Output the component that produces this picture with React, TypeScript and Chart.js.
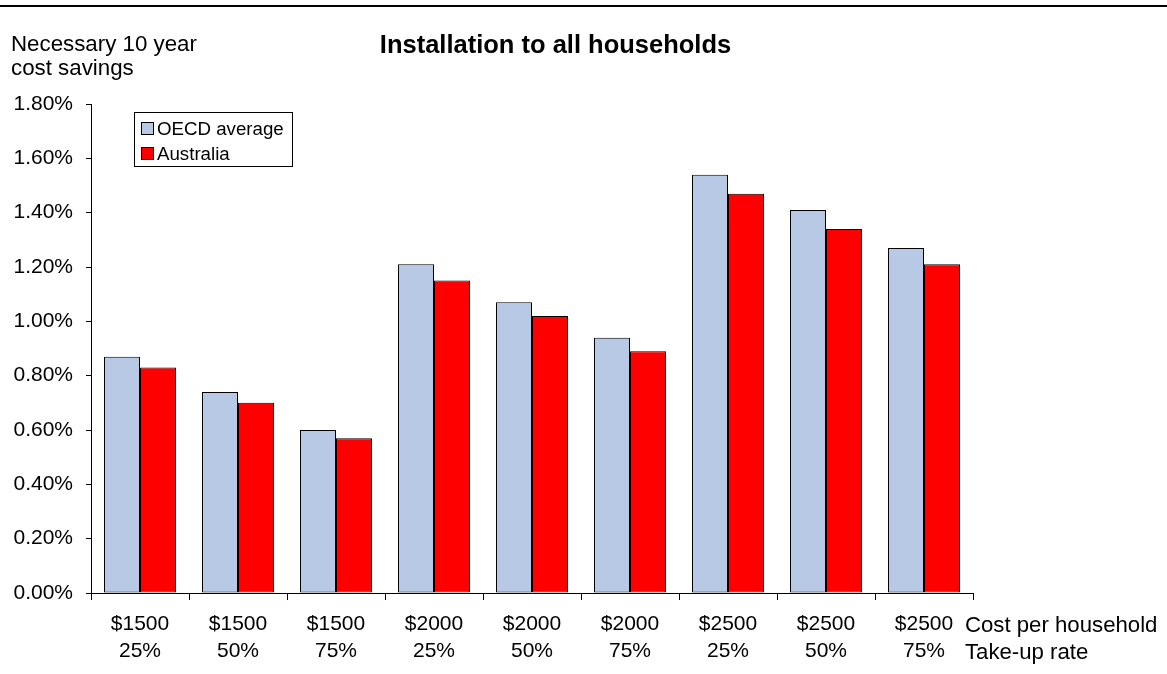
import React, { useEffect, useRef } from "react";
import { Chart, registerables } from "chart.js";

Chart.register(...registerables);

const costLabels = ["$1500", "$1500", "$1500", "$2000", "$2000", "$2000", "$2500", "$2500", "$2500"];
const rateLabels = ["25%", "50%", "75%", "25%", "50%", "75%", "25%", "50%", "75%"];
const oecdValues = [0.87, 0.74, 0.6, 1.21, 1.07, 0.94, 1.54, 1.41, 1.27];
const australiaValues = [0.83, 0.7, 0.57, 1.15, 1.02, 0.89, 1.47, 1.34, 1.21];
const seriesNames = ["OECD average", "Australia"];
const seriesColors = ["#B8C9E5", "#FF0000"];
const chartTitle = "Installation to all households";
const yTitleLines = ["Necessary 10 year", "cost savings"];
const xTitleLines = ["Cost per household", "Take-up rate"];

const FONT = "'Liberation Sans', Arial, sans-serif";

const decorPlugin = {
  id: "decor",
  afterDraw(chart: any) {
    const ctx = chart.ctx as CanvasRenderingContext2D;
    ctx.save();
    // top rule
    ctx.fillStyle = "#000";
    ctx.fillRect(0, 5, chart.width, 2);

    // title
    ctx.fillStyle = "#000";
    ctx.font = `bold 25.5px ${FONT}`;
    ctx.textAlign = "center";
    ctx.textBaseline = "alphabetic";
    ctx.fillText(chartTitle, 555.5, 53);

    // y title
    ctx.font = `22.3px ${FONT}`;
    ctx.textAlign = "left";
    ctx.fillText(yTitleLines[0], 11, 51);
    ctx.fillText(yTitleLines[1], 11, 75);

    // x titles at right
    ctx.font = `22.2px ${FONT}`;
    ctx.fillText(xTitleLines[0], 965, 632);
    ctx.fillText(xTitleLines[1], 965, 659);

    // legend
    ctx.lineWidth = 1;
    ctx.strokeStyle = "#000";
    ctx.fillStyle = "#fff";
    ctx.fillRect(134.5, 112.5, 158, 54);
    ctx.strokeRect(134.5, 112.5, 158, 54);
    ctx.font = `18.7px ${FONT}`;
    const baselines = [135, 160];
    seriesNames.forEach((name, i) => {
      ctx.fillStyle = seriesColors[i];
      ctx.fillRect(141.5, baselines[i] - 12.5, 12, 12);
      ctx.strokeRect(141.5, baselines[i] - 12.5, 12, 12);
      ctx.fillStyle = "#000";
      ctx.fillText(name, 157, baselines[i]);
    });
    ctx.restore();
  },
};

export default function App() {
  const canvasRef = useRef<HTMLCanvasElement | null>(null);

  useEffect(() => {
    if (!canvasRef.current) return;
    const labels = costLabels.map((c, i) => [c, rateLabels[i]]);
    const chart = new Chart(canvasRef.current, {
      type: "bar",
      data: {
        labels,
        datasets: [
          {
            label: seriesNames[0],
            data: oecdValues,
            backgroundColor: seriesColors[0],
            borderColor: "#000",
            borderWidth: 1,
            borderSkipped: false,
            categoryPercentage: 0.735,
            barPercentage: 1,
          },
          {
            label: seriesNames[1],
            data: australiaValues,
            backgroundColor: seriesColors[1],
            borderColor: "#000",
            borderWidth: 1,
            borderSkipped: false,
            categoryPercentage: 0.735,
            barPercentage: 1,
          },
        ],
      },
      options: {
        responsive: false,
        animation: false,
        devicePixelRatio: 1,
        layout: { padding: { left: 0, right: 194, top: 104, bottom: 0 } },
        plugins: {
          legend: { display: false },
          title: { display: false },
          tooltip: { enabled: false },
        },
        scales: {
          x: {
            grid: {
              display: true,
              drawOnChartArea: false,
              drawTicks: true,
              tickLength: 7,
              color: "#000",
              offset: true,
            },
            border: { display: true, color: "#000", width: 1 },
            ticks: {
              color: "#000",
              padding: 10,
              maxRotation: 0,
              autoSkip: false,
              font: { family: FONT, size: 21, lineHeight: 1.31 },
            },
            afterFit(scale: any) {
              scale.height = 81;
            },
          },
          y: {
            min: 0,
            max: 1.8,
            grid: {
              display: true,
              drawOnChartArea: false,
              drawTicks: true,
              tickLength: 5,
              color: "#000",
            },
            border: { display: true, color: "#000", width: 1 },
            ticks: {
              stepSize: 0.2,
              color: "#000",
              padding: 13,
              font: { family: FONT, size: 21 },
              callback: (v: any) => Number(v).toFixed(2) + "%",
            },
            afterFit(scale: any) {
              scale.width = 91;
            },
          },
        },
      },
      plugins: [decorPlugin],
    });
    return () => chart.destroy();
  }, []);

  return (
    <div style={{ position: "fixed", left: 0, top: 0, width: 1167, height: 674, background: "#fff" }}>
      <canvas ref={canvasRef} width={1167} height={674} style={{ display: "block" }} />
    </div>
  );
}
